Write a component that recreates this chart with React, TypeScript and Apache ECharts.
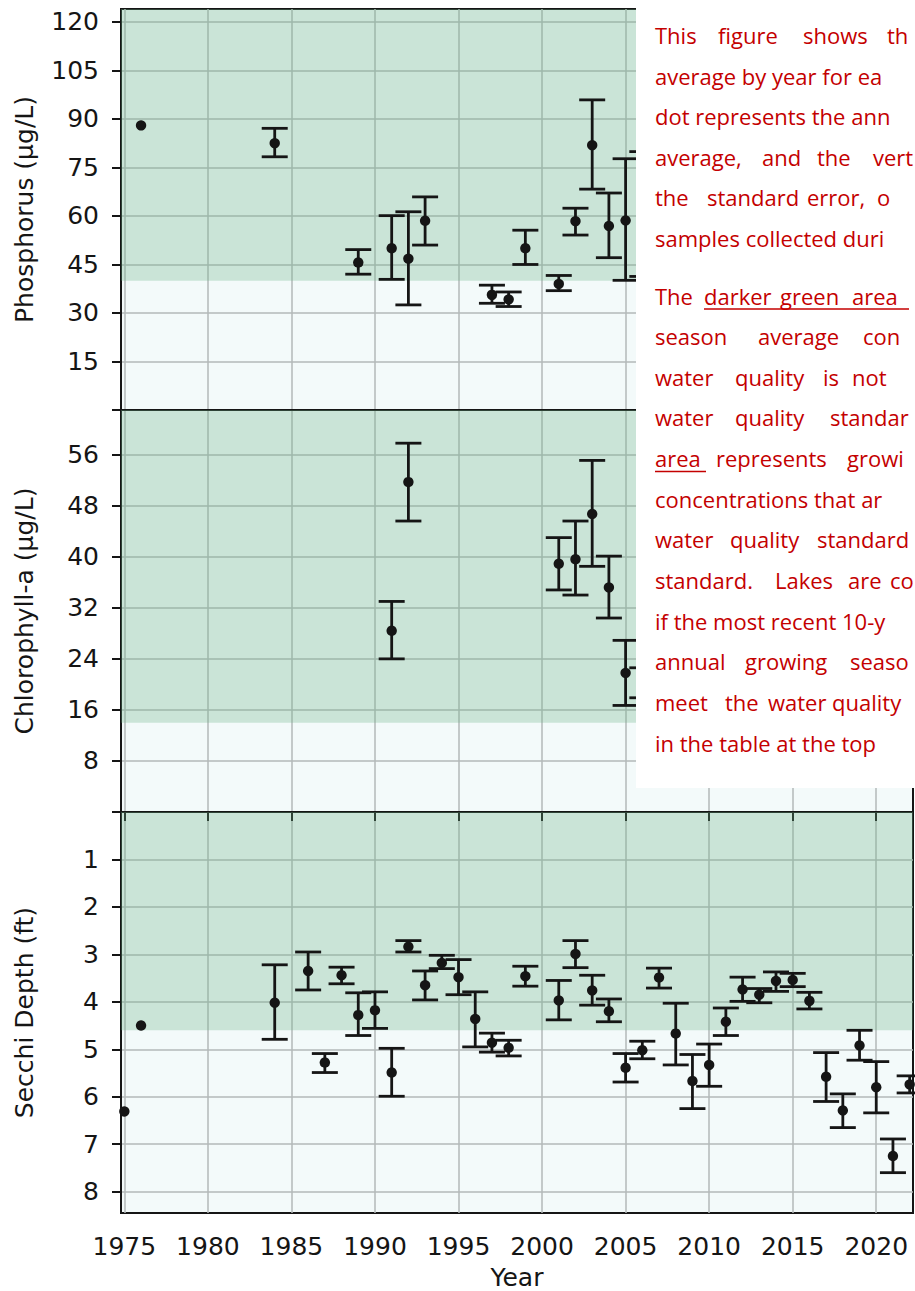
import React, { useEffect, useRef } from "react";
import * as echarts from "echarts";

// ---- data -------------------------------------------------------------
const yearTicks = [1975, 1980, 1985, 1990, 1995, 2000, 2005, 2010, 2015, 2020];

const phosTicks = [15, 30, 45, 60, 75, 90, 105, 120];
const chlTicks = [8, 16, 24, 32, 40, 48, 56];
const secchiTicks = [1, 2, 3, 4, 5, 6, 7, 8];

// Total phosphorus (µg/L): annual growing-season mean and ± standard error
const phosYears = [1976, 1984, 1989, 1991, 1992, 1993, 1997, 1998, 1999, 2001, 2002, 2003, 2004, 2005, 2006];
const phosMean = [88.0, 82.5, 45.6, 50.0, 46.8, 58.5, 35.6, 34.2, 50.0, 39.0, 58.4, 81.9, 56.9, 58.6, 60.6];
const phosLow = [null, 78.3, 42.0, 40.4, 32.5, 51.0, 33.0, 32.0, 45.0, 36.9, 54.1, 68.3, 47.1, 40.1, 41.3];
const phosHigh = [null, 87.1, 49.6, 60.1, 61.3, 65.9, 38.6, 36.5, 55.6, 41.6, 62.4, 95.9, 67.1, 77.7, 79.9];

// Chlorophyll-a (µg/L)
const chlYears = [1991, 1992, 2001, 2002, 2003, 2004, 2005, 2006];
const chlMean = [28.4, 51.7, 38.9, 39.6, 46.7, 35.2, 21.8, 20.2];
const chlLow = [24.0, 45.6, 34.8, 34.0, 38.5, 30.4, 16.7, 17.9];
const chlHigh = [33.0, 57.8, 43.0, 45.6, 55.1, 40.1, 26.9, 22.6];

// Secchi depth (ft)
const secchiYears = [1975, 1976, 1984, 1986, 1987, 1988, 1989, 1990, 1991, 1992, 1993, 1994, 1995, 1996, 1997, 1998, 1999, 2001, 2002, 2003, 2004, 2005, 2006, 2007, 2008, 2009, 2010, 2011, 2012, 2013, 2014, 2015, 2016, 2017, 2018, 2019, 2020, 2021, 2022];
const secchiMean = [6.31, 4.50, 4.02, 3.35, 5.28, 3.44, 4.28, 4.18, 5.49, 2.84, 3.65, 3.18, 3.48, 4.36, 4.86, 4.97, 3.46, 3.97, 2.99, 3.76, 4.20, 5.39, 5.02, 3.49, 4.67, 5.67, 5.33, 4.42, 3.74, 3.85, 3.56, 3.54, 3.98, 5.58, 6.29, 4.92, 5.80, 7.25, 5.74];
const secchiLow = [null, null, 3.22, 2.95, 5.09, 3.27, 3.81, 3.79, 4.98, 2.71, 3.35, 3.02, 3.11, 3.79, 4.66, 4.81, 3.25, 3.55, 2.71, 3.44, 3.94, 5.09, 4.83, 3.29, 4.03, 5.11, 4.89, 4.13, 3.48, 3.72, 3.37, 3.40, 3.80, 5.07, 5.94, 4.60, 5.26, 6.89, 5.56];
const secchiHigh = [null, null, 4.79, 3.75, 5.49, 3.62, 4.71, 4.56, 5.99, 2.95, 3.96, 3.30, 3.85, 4.95, 5.06, 5.14, 3.67, 4.38, 3.28, 4.07, 4.42, 5.69, 5.20, 3.71, 5.33, 6.25, 5.78, 4.71, 3.99, 4.02, 3.78, 3.68, 4.15, 6.10, 6.65, 5.23, 6.34, 7.60, 5.92];

// Ranges that do not meet the water quality standard
const phosBand = [40, 124];
const chlBand = [14, 63];
const secchiBand = [0, 4.6];

// ---- layout & style ---------------------------------------------------
const X_MIN = 1974.8;
const X_MAX = 2022.2;
const INK = "#151515";
const GRID_LINE = "#b3b8b8";
const PALE = "#f3fafa";
const BAND = "rgba(110,180,135,0.3)";
const NOTE_RED = "#c40000";
const AXIS_FONT = "DejaVu Sans";
const CAP = 13;

const panels = [
  { top: 9, height: 401, min: 0, max: 124, ticks: phosTicks, name: "Phosphorus (µg/L)", inverse: false },
  { top: 410, height: 402, min: 0, max: 63, ticks: chlTicks, name: "Chlorophyll-a (µg/L)", inverse: false },
  { top: 812, height: 401, min: 0, max: 8.45, ticks: secchiTicks, name: "Secchi Depth (ft)", inverse: true },
];

const toRows = (years: number[], mean: number[], low: (number | null)[], high: (number | null)[]) =>
  years.map((y, i) => [y, mean[i], low[i] == null ? "-" : low[i], high[i] == null ? "-" : high[i]]);

const errRender = (params: any, api: any) => {
  const x = api.value(0);
  const m = api.value(1);
  const lo = api.value(2);
  const hi = api.value(3);
  const p = api.coord([x, m]);
  const kids: any[] = [];
  if (isFinite(lo) && isFinite(hi)) {
    const a = api.coord([x, lo]);
    const b = api.coord([x, hi]);
    const st = { stroke: INK, lineWidth: 2.8 };
    kids.push({ type: "line", shape: { x1: a[0], y1: a[1], x2: b[0], y2: b[1] }, style: st });
    kids.push({ type: "line", shape: { x1: a[0] - CAP, y1: a[1], x2: a[0] + CAP, y2: a[1] }, style: st });
    kids.push({ type: "line", shape: { x1: b[0] - CAP, y1: b[1], x2: b[0] + CAP, y2: b[1] }, style: st });
  }
  kids.push({ type: "circle", shape: { cx: p[0], cy: p[1], r: 5.2 }, style: { fill: INK } });
  return { type: "group", children: kids };
};

const bandRender = (params: any, api: any) => {
  const cs = params.coordSys;
  const a = api.coord([api.value(0), api.value(1)]);
  const b = api.coord([api.value(0), api.value(2)]);
  const top = Math.min(a[1], b[1]);
  const bottom = Math.max(a[1], b[1]);
  return { type: "rect", shape: { x: cs.x, y: top, width: cs.width, height: bottom - top }, style: { fill: BAND } };
};

// ---- explanatory note (the column runs past the right edge) -----------
const NOTE_FONT = '22px "Open Sans"';
type NoteLine = { base: number; words: [string, number][] };
const L = 655;
const noteLines: NoteLine[] = [
  { base: 45, words: [["This", L], ["figure", 718], ["shows", 803], ["th", 887]] },
  { base: 85.5, words: [["average by year for ea", L]] },
  { base: 126, words: [["dot represents the ann", L]] },
  { base: 166.5, words: [["average,", L], ["and", 762], ["the", 817], ["vert", 873]] },
  { base: 207, words: [["the", L], ["standard", 707], ["error,", 807], ["o", 877]] },
  { base: 247.5, words: [["samples collected duri", L]] },
  { base: 305.5, words: [["The", L], ["darker", 704], ["green", 780], ["area", 852]] },
  { base: 346, words: [["season", L], ["average", 758], ["con", 863]] },
  { base: 386.5, words: [["water", L], ["quality", 735], ["is", 823], ["not", 852]] },
  { base: 427, words: [["water", L], ["quality", 735], ["standar", 830]] },
  { base: 468, words: [["area", L], ["represents", 716], ["growi", 847]] },
  { base: 508.5, words: [["concentrations that ar", L]] },
  { base: 549, words: [["water", L], ["quality", 730], ["standard", 817]] },
  { base: 590, words: [["standard.", L], ["Lakes", 775], ["are", 848], ["co", 890]] },
  { base: 630.5, words: [["if the most recent 10-y", L]] },
  { base: 671, words: [["annual", L], ["growing", 745], ["seaso", 850]] },
  { base: 712, words: [["meet", L], ["the", 725], ["water", 768], ["quality", 832]] },
  { base: 752.5, words: [["in the table at the top", L]] },
];
const noteUnderlines = [
  { x1: 704, x2: 909, y: 309 },
  { x1: 655, x2: 706, y: 471.5 },
];

function buildNote(): any[] {
  const els: any[] = [
    { type: "rect", z: 100, shape: { x: 636, y: 0, width: 300, height: 788 }, style: { fill: "#ffffff" }, silent: true },
  ];
  noteLines.forEach((ln) => {
    ln.words.forEach(([w, x]) => {
      els.push({
        type: "text",
        z: 101,
        x,
        y: ln.base - 10,
        silent: true,
        style: { text: w, font: NOTE_FONT, fill: NOTE_RED, verticalAlign: "middle", align: "left" },
      });
    });
  });
  noteUnderlines.forEach((u) => {
    els.push({ type: "line", z: 101, silent: true, shape: { x1: u.x1, y1: u.y, x2: u.x2, y2: u.y }, style: { stroke: NOTE_RED, lineWidth: 1.6 } });
  });
  return els;
}

function buildOption(): any {
  const series = [
    { band: phosBand, rows: toRows(phosYears, phosMean, phosLow, phosHigh) },
    { band: chlBand, rows: toRows(chlYears, chlMean, chlLow, chlHigh) },
    { band: secchiBand, rows: toRows(secchiYears, secchiMean, secchiLow, secchiHigh) },
  ].flatMap((s, i) => [
    {
      type: "custom",
      name: "band" + i,
      xAxisIndex: i,
      yAxisIndex: i,
      z: 1,
      silent: true,
      renderItem: bandRender,
      encode: { x: 0, y: [1, 2] },
      data: [[X_MIN, s.band[0], s.band[1]]],
    },
    {
      type: "custom",
      name: "values" + i,
      xAxisIndex: i,
      yAxisIndex: i,
      z: 3,
      renderItem: errRender,
      encode: { x: 0, y: [1, 2, 3] },
      data: s.rows,
    },
  ]);

  return {
    animation: false,
    textStyle: { fontFamily: AXIS_FONT },
    grid: panels.map((p) => ({
      left: 121,
      width: 792,
      top: p.top,
      height: p.height,
      show: true,
      backgroundColor: PALE,
      borderColor: INK,
      borderWidth: 2,
      containLabel: false,
    })),
    xAxis: panels.map((p, i) => {
      const bottom = i === panels.length - 1;
      return {
        type: "value",
        gridIndex: i,
        min: X_MIN,
        max: X_MAX,
        name: bottom ? "Year" : "",
        nameLocation: "middle",
        nameGap: 52,
        nameTextStyle: { fontSize: 25, color: INK, fontFamily: AXIS_FONT },
        axisLine: { show: true, lineStyle: { color: INK, width: 2 } },
        axisTick: { show: bottom, customValues: yearTicks, length: 9, lineStyle: { color: INK, width: 2 } },
        axisLabel: {
          show: bottom,
          customValues: yearTicks,
          fontSize: 25,
          color: INK,
          margin: 21,
          fontFamily: AXIS_FONT,
          formatter: (v: number) => String(v),
        },
        splitLine: { show: true, lineStyle: { color: GRID_LINE, width: 1.5 } },
      };
    }),
    yAxis: panels.map((p, i) => ({
      type: "value",
      gridIndex: i,
      min: p.min,
      max: p.max,
      inverse: p.inverse,
      name: p.name,
      nameLocation: "middle",
      nameGap: 84,
      nameTextStyle: { fontSize: 25, color: INK, fontFamily: AXIS_FONT },
      axisLine: { show: true, lineStyle: { color: INK, width: 2 } },
      axisTick: { show: true, customValues: [0, ...p.ticks], length: 9, lineStyle: { color: INK, width: 2 } },
      axisLabel: {
        customValues: p.ticks,
        fontSize: 25,
        color: INK,
        margin: 22,
        fontFamily: AXIS_FONT,
        formatter: (v: number) => String(v),
      },
      splitLine: { show: true, lineStyle: { color: GRID_LINE, width: 1.5 } },
    })),
    series,
    graphic: buildNote(),
  };
}

export default function App() {
  const ref = useRef<HTMLDivElement>(null);
  useEffect(() => {
    if (!ref.current) return;
    const chart = echarts.init(ref.current, undefined, { renderer: "svg" });
    chart.setOption(buildOption());
    return () => chart.dispose();
  }, []);
  return (
    <div
      ref={ref}
      style={{ position: "fixed", left: 0, top: 0, width: 915, height: 1291, background: "#ffffff", overflow: "hidden" }}
    />
  );
}
